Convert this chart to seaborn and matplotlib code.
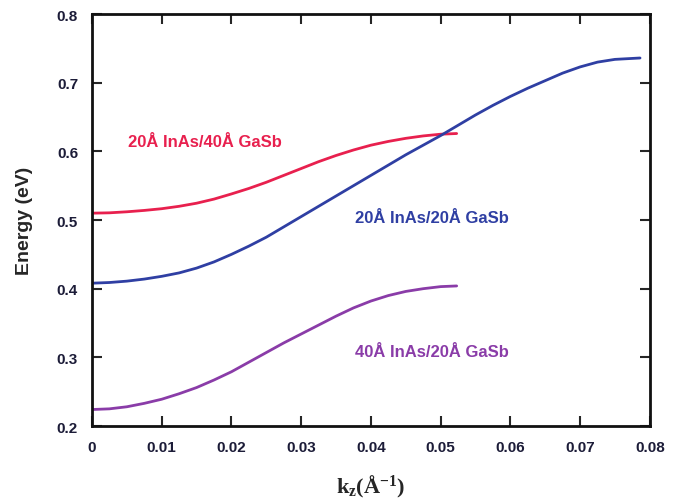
import pandas as pd
import matplotlib
matplotlib.use('Agg')
import matplotlib.pyplot as plt
import seaborn as sns

# values
k_red = [0, 0.0025, 0.005, 0.0075, 0.01, 0.0125, 0.015, 0.0175, 0.02, 0.0225, 0.025,
         0.0275, 0.03, 0.0325, 0.035, 0.0375, 0.04, 0.0425, 0.045, 0.0475, 0.05, 0.0523]
e_red = [0.510, 0.5105, 0.512, 0.514, 0.5165, 0.520, 0.5245, 0.5305, 0.538, 0.546, 0.555,
         0.565, 0.575, 0.585, 0.594, 0.602, 0.609, 0.6145, 0.619, 0.6225, 0.625, 0.626]

k_blue = [0, 0.0025, 0.005, 0.0075, 0.01, 0.0125, 0.015, 0.0175, 0.02, 0.0225, 0.025,
          0.0275, 0.03, 0.0325, 0.035, 0.0375, 0.04, 0.0425, 0.045, 0.0475, 0.05, 0.0525,
          0.055, 0.0575, 0.06, 0.0625, 0.065, 0.0675, 0.07, 0.0725, 0.075, 0.0786]
e_blue = [0.408, 0.409, 0.411, 0.414, 0.418, 0.423, 0.430, 0.439, 0.450, 0.462, 0.475,
          0.490, 0.505, 0.520, 0.535, 0.550, 0.565, 0.580, 0.595, 0.609, 0.623, 0.638,
          0.653, 0.667, 0.680, 0.692, 0.703, 0.714, 0.723, 0.730, 0.734, 0.736]

k_purple = [0, 0.0025, 0.005, 0.0075, 0.01, 0.0125, 0.015, 0.0175, 0.02, 0.0225, 0.025,
            0.0275, 0.03, 0.0325, 0.035, 0.0375, 0.04, 0.0425, 0.045, 0.0475, 0.05, 0.0523]
e_purple = [0.224, 0.225, 0.228, 0.233, 0.239, 0.247, 0.256, 0.267, 0.279, 0.293, 0.307,
            0.321, 0.334, 0.347, 0.360, 0.372, 0.382, 0.390, 0.396, 0.400, 0.403, 0.404]

names = ['20Å InAs/40Å GaSb', '20Å InAs/20Å GaSb', '40Å InAs/20Å GaSb']
colors = ['#e8204e', '#2f3fa3', '#8a3ca8']
label_pos = [(0.0052, 0.614), (0.0377, 0.504), (0.0377, 0.308)]

df = pd.concat([
    pd.DataFrame({'k': k_red, 'E': e_red, 'sample': names[0]}),
    pd.DataFrame({'k': k_blue, 'E': e_blue, 'sample': names[1]}),
    pd.DataFrame({'k': k_purple, 'E': e_purple, 'sample': names[2]}),
])

sns.set_style('ticks')
plt.rcParams['font.family'] = ['Liberation Sans', 'DejaVu Sans']
plt.rcParams['mathtext.fontset'] = 'custom'
plt.rcParams['mathtext.rm'] = 'Liberation Serif'
plt.rcParams['mathtext.bf'] = 'Liberation Serif:bold'

fig = plt.figure(figsize=(6.84, 5.02), dpi=100)
ax = fig.add_axes([0.1345, 0.1494, 0.8155, 0.8206])

sns.lineplot(data=df, x='k', y='E', hue='sample', palette=dict(zip(names, colors)),
             linewidth=2, legend=False, ax=ax, sort=True)

for name, col, (x, y) in zip(names, colors, label_pos):
    ax.text(x, y, name, color=col, fontsize=12, fontweight='bold', va='center', ha='left')

ax.set_xlim(0, 0.08)
ax.set_ylim(0.2, 0.8)
ax.set_xticks([0, 0.01, 0.02, 0.03, 0.04, 0.05, 0.06, 0.07, 0.08])
ax.set_xticklabels(['0', '0.01', '0.02', '0.03', '0.04', '0.05', '0.06', '0.07', '0.08'])
ax.set_yticks([0.2, 0.3, 0.4, 0.5, 0.6, 0.7, 0.8])
ax.set_yticklabels(['0.2', '0.3', '0.4', '0.5', '0.6', '0.7', '0.8'])
ax.tick_params(direction='in', length=7, width=1.5, top=True, right=True,
               labelsize=11, labelcolor='#1c1c38', pad=10)
for lbl in ax.get_xticklabels() + ax.get_yticklabels():
    lbl.set_fontweight('bold')
for s in ax.spines.values():
    s.set_linewidth(2)
    s.set_color('#111111')

ax.set_xlabel(r'$\mathbf{k_z(\AA^{-1})}$', fontsize=16, labelpad=14)
ax.set_ylabel('Energy (eV)', fontsize=14, fontweight='bold', labelpad=17)

fig.savefig('out.png', dpi=100)
